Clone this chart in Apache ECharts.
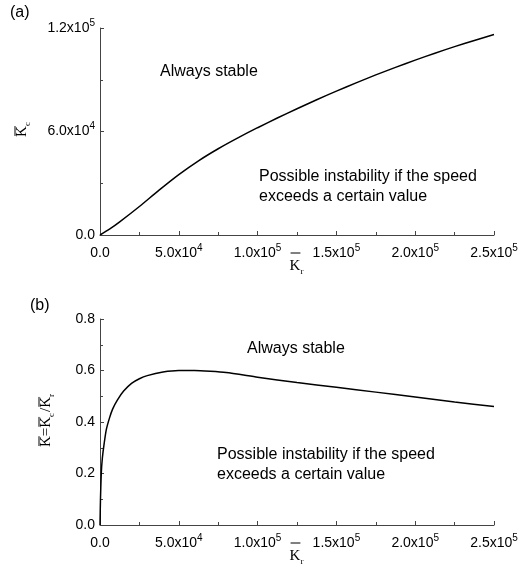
<!DOCTYPE html>
<html>
<head>
<meta charset="utf-8">
<script src="https://cdn.jsdelivr.net/npm/echarts@6/dist/echarts.min.js"></script>
<style>
  html, body { margin: 0; padding: 0; background: #fff; }
  #main { width: 522px; height: 572px; }
</style>
</head>
<body>
<div id="main"></div>
<script>
// (a) critical stiffness Kc vs bearing stiffness Kr
const krA = [0, 6250, 12500, 25000, 37500, 50000, 62500, 75000, 87500, 100000, 112500, 125000, 137500, 150000, 162500, 175000, 187500, 200000, 212500, 225000, 237500, 250000];
const kcA = [0, 3500, 7600, 16500, 26000, 35000, 43000, 50000, 56300, 62200, 67800, 73200, 78400, 83400, 88200, 92800, 97200, 101400, 105400, 109200, 112800, 116200];

// (b) ratio K = Kc / Kr
const krB = [0, 300, 800, 1500, 2500, 4000, 6000, 8000, 11000, 15000, 20000, 25000, 30000, 40000, 50000, 60000, 70000, 80000, 100000, 125000, 150000, 175000, 200000, 225000, 250000];
const ratioB = [0, 0.1, 0.2, 0.26, 0.31, 0.37, 0.415, 0.45, 0.485, 0.52, 0.55, 0.568, 0.58, 0.594, 0.6, 0.6, 0.597, 0.592, 0.574, 0.553, 0.535, 0.516, 0.497, 0.478, 0.46];

const FONT = '"Liberation Sans", Arial, sans-serif';
const SERIF = '"Liberation Serif", "Times New Roman", serif';

// tick labels like 5.0x10^4
function sci(v) {
  if (v === 0) return '0.0';
  const e = Math.floor(Math.log10(v) + 1e-9);
  const m = v / Math.pow(10, e);
  return m.toFixed(1) + 'x10{sup|' + e + '}';
}
const supRich = { sup: { fontSize: 10, verticalAlign: 'top', lineHeight: 10, fontFamily: FONT, color: '#000' } };

const mctx = document.createElement('canvas').getContext('2d');
function textW(t, size, fam) {
  mctx.font = size + 'px ' + fam;
  return mctx.measureText(t).width;
}

// builds K-bar style names, pieces: {t, bar, sub}
function kName(pieces, size, barGap) {
  const kids = [];
  let x = 0;
  pieces.forEach(p => {
    const w = textW(p.t, size, SERIF);
    kids.push({ type: 'text', x: x, y: 0, style: { text: p.t, font: size + 'px ' + SERIF, fill: '#000', verticalAlign: 'middle' } });
    if (p.bar) {
      kids.push({ type: 'line', shape: { x1: x + 1, y1: -barGap, x2: x + w, y2: -barGap }, style: { stroke: '#000', lineWidth: 1 } });
    }
    x += w;
    if (p.sub) {
      const ss = size * 0.6;
      kids.push({ type: 'text', x: x, y: size * 0.35, style: { text: p.sub, font: ss + 'px ' + SERIF, fill: '#000', verticalAlign: 'middle' } });
      x += textW(p.sub, ss, SERIF) + 1;
    }
  });
  kids.forEach(k => {
    if (k.type === 'text') k.x -= x / 2;
    else { k.shape.x1 -= x / 2; k.shape.x2 -= x / 2; }
  });
  return kids;
}

function xAxisCfg(gi) {
  return {
    type: 'value', gridIndex: gi, min: 0, max: 250000, interval: 50000,
    axisLine: { show: true, onZero: false, lineStyle: { color: '#444', width: 1 } },
    axisTick: { show: true, inside: true, length: 4, lineStyle: { color: '#444' } },
    minorTick: { show: true, splitNumber: 2, length: 3, lineStyle: { color: '#444' } },
    splitLine: { show: false },
    minorSplitLine: { show: false },
    axisLabel: { color: '#000', fontSize: 14, fontFamily: FONT, margin: 8, lineHeight: 20, formatter: sci, rich: supRich, showMinLabel: true, showMaxLabel: true, hideOverlap: false }
  };
}

const chart = echarts.init(document.getElementById('main'));
chart.setOption({
  animation: false,
  backgroundColor: '#fff',
  grid: [
    { left: 100, top: 28, width: 394, height: 207, containLabel: false },
    { left: 100, top: 319, width: 394, height: 206, containLabel: false }
  ],
  xAxis: [xAxisCfg(0), xAxisCfg(1)],
  yAxis: [
    {
      type: 'value', gridIndex: 0, min: 0, max: 120000, interval: 60000,
      axisLine: { show: true, onZero: false, lineStyle: { color: '#444', width: 1 } },
      axisTick: { show: true, inside: true, length: 4, lineStyle: { color: '#444' } },
      minorTick: { show: true, splitNumber: 2, length: 3, lineStyle: { color: '#444' } },
      splitLine: { show: false },
      axisLabel: { color: '#000', fontSize: 14, fontFamily: FONT, margin: 5, lineHeight: 20, formatter: sci, rich: supRich, showMinLabel: true, showMaxLabel: true }
    },
    {
      type: 'value', gridIndex: 1, min: 0, max: 0.8, interval: 0.2,
      axisLine: { show: true, onZero: false, lineStyle: { color: '#444', width: 1 } },
      axisTick: { show: true, inside: true, length: 4, lineStyle: { color: '#444' } },
      minorTick: { show: true, splitNumber: 2, length: 3, lineStyle: { color: '#444' } },
      splitLine: { show: false },
      axisLabel: { color: '#000', fontSize: 14, fontFamily: FONT, margin: 5, formatter: v => v.toFixed(1), showMinLabel: true, showMaxLabel: true }
    }
  ],
  series: [
    {
      type: 'line', xAxisIndex: 0, yAxisIndex: 0,
      data: krA.map((x, i) => [x, kcA[i]]),
      showSymbol: false, smooth: 0.25,
      lineStyle: { color: '#000', width: 1.5 }
    },
    {
      type: 'line', xAxisIndex: 1, yAxisIndex: 1,
      data: krB.map((x, i) => [x, ratioB[i]]),
      showSymbol: false, smooth: 0.2,
      lineStyle: { color: '#000', width: 1.5 }
    }
  ],
  graphic: [
    { type: 'text', left: 10, top: 5, style: { text: '(a)', font: '16px ' + FONT, fill: '#000' } },
    { type: 'text', left: 30, top: 298, style: { text: '(b)', font: '16px ' + FONT, fill: '#000' } },
    { type: 'text', left: 160, top: 64, style: { text: 'Always stable', font: '16px ' + FONT, fill: '#000' } },
    { type: 'text', left: 259, top: 167, style: { text: 'Possible instability if the speed\nexceeds a certain value', font: '16px ' + FONT, lineHeight: 20, fill: '#000' } },
    { type: 'text', left: 247, top: 341, style: { text: 'Always stable', font: '16px ' + FONT, fill: '#000' } },
    { type: 'text', left: 217, top: 445, style: { text: 'Possible instability if the speed\nexceeds a certain value', font: '16px ' + FONT, lineHeight: 20, fill: '#000' } },
    // axis names
    { type: 'group', x: 297, y: 266, children: kName([{ t: 'K', bar: true, sub: 'r' }], 15, 13) },
    { type: 'group', x: 297, y: 556, children: kName([{ t: 'K', bar: true, sub: 'r' }], 15, 13) },
    { type: 'group', x: 22, y: 129, rotation: Math.PI / 2, children: kName([{ t: 'K', bar: true, sub: 'c' }], 15, 7) },
    { type: 'group', x: 46, y: 420, rotation: Math.PI / 2, children: kName([{ t: 'K', bar: true }, { t: '=' }, { t: 'K', bar: true, sub: 'c' }, { t: '/' }, { t: 'K', bar: true, sub: 'r' }], 15, 7) }
  ]
});
</script>
</body>
</html>
